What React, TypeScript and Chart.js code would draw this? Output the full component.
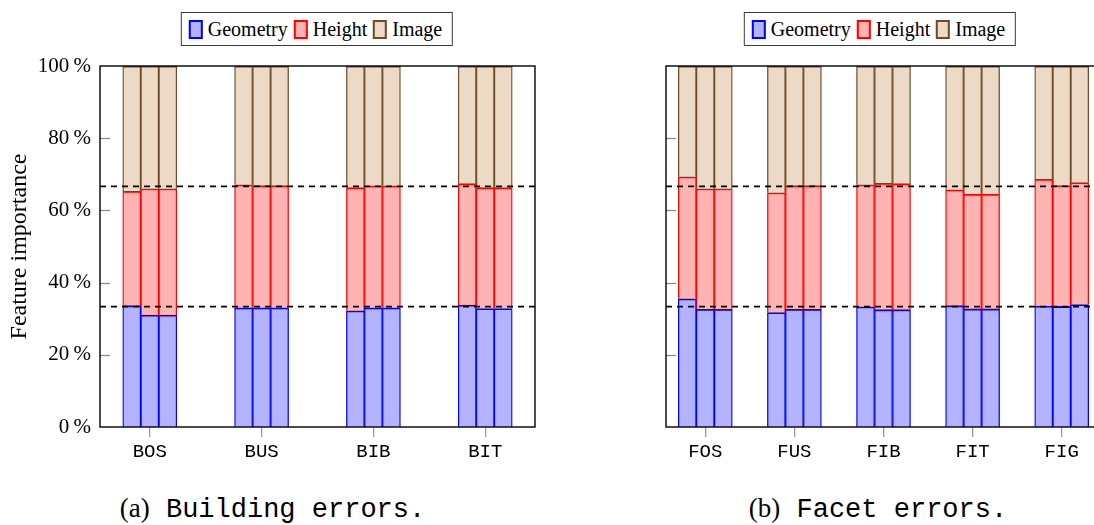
import React, { useEffect, useRef } from 'react';
import { Chart, registerables } from 'chart.js';

Chart.register(...registerables);

// ---------- data ----------
const seriesNames = ['Geometry', 'Height', 'Image'];

const buildingCategories = ['BOS', 'BUS', 'BIB', 'BIT'];
const buildingGeometry = [
  [33.6, 31.0, 31.0],
  [33.0, 33.0, 33.0],
  [32.2, 33.0, 33.0],
  [33.8, 32.8, 32.8],
];
const buildingHeight = [
  [31.7, 35.0, 35.0],
  [34.1, 33.85, 33.85],
  [34.1, 33.8, 33.8],
  [33.6, 33.5, 33.5],
];
const buildingImage = [
  [34.7, 34.0, 34.0],
  [32.9, 33.15, 33.15],
  [33.7, 33.2, 33.2],
  [32.6, 33.7, 33.7],
];

const facetCategories = ['FOS', 'FUS', 'FIB', 'FIT', 'FIG'];
const facetGeometry = [
  [35.5, 32.6, 32.6],
  [31.7, 32.6, 32.6],
  [33.3, 32.5, 32.5],
  [33.6, 32.7, 32.7],
  [33.5, 33.4, 33.9],
];
const facetHeight = [
  [33.8, 33.4, 33.4],
  [33.2, 34.25, 34.25],
  [33.8, 35.0, 34.9],
  [32.1, 31.75, 31.75],
  [35.1, 33.5, 33.8],
];
const facetImage = [
  [30.7, 34.0, 34.0],
  [35.1, 33.15, 33.15],
  [32.9, 32.5, 32.6],
  [34.3, 35.55, 35.55],
  [31.4, 33.1, 32.3],
];

const yTickValues = [0, 20, 40, 60, 80, 100];
const referenceLines = [100 / 3, 200 / 3];

// ---------- styles ----------
const seriesFill = ['#b3b3ff', '#ffb3b3', '#ecd9c6'];
const seriesBorder = ['#0000ff', '#ff0000', '#6e4a26'];
const SERIF = '"Liberation Serif", "Times New Roman", serif';
const MONO = '"Liberation Mono", "DejaVu Sans Mono", monospace';

const overlayPlugin = {
  id: 'overlay',
  afterDatasetsDraw(chart: any) {
    const { ctx, chartArea: a, scales } = chart;
    const y = scales.y;
    ctx.save();
    // inward y tick marks
    ctx.strokeStyle = '#8c8c8c';
    ctx.lineWidth = 1.3;
    for (const v of yTickValues) {
      if (v <= 0 || v >= 100) continue;
      const py = Math.round(y.getPixelForValue(v)) + 0.5;
      ctx.beginPath();
      ctx.moveTo(a.left, py);
      ctx.lineTo(a.left + 10, py);
      ctx.stroke();
    }
    // dashed reference lines
    ctx.strokeStyle = '#000';
    ctx.lineWidth = 1.6;
    ctx.setLineDash([6, 5]);
    for (const v of referenceLines) {
      const py = y.getPixelForValue(v);
      ctx.beginPath();
      ctx.moveTo(a.left, py);
      ctx.lineTo(a.right, py);
      ctx.stroke();
    }
    ctx.setLineDash([]);
    // frame
    ctx.strokeStyle = '#000';
    ctx.lineWidth = 1.4;
    ctx.strokeRect(a.left, a.top, a.right - a.left, a.bottom - a.top);
    ctx.restore();
  },
};

type PanelProps = {
  categories: string[];
  series: number[][][];
  xMin: number;
  xMax: number;
  subOffset: number;
  showYLabels: boolean;
  canvasW: number;
  canvasH: number;
  padRight: number;
  yAxisW: number;
  left: number;
};

function Panel(p: PanelProps) {
  const ref = useRef<HTMLCanvasElement>(null);
  useEffect(() => {
    const datasets = p.series.map((vals, s) => ({
      label: seriesNames[s],
      data: vals.flatMap((grp, i) =>
        grp.map((v, j) => ({ x: i + (j - 1) * p.subOffset, y: v }))
      ),
      backgroundColor: seriesFill[s],
      borderColor: seriesBorder[s],
      borderWidth: { top: 1.8, left: 1.3, right: 1.3, bottom: 0 },
      borderSkipped: 'start',
      barPercentage: 1,
      categoryPercentage: 1,
    }));
    const chart = new Chart(ref.current as HTMLCanvasElement, {
      type: 'bar',
      data: { datasets } as any,
      options: {
        animation: false,
        responsive: false,
        layout: { padding: { top: 66, right: p.padRight, bottom: 0, left: 0 } },
        plugins: { legend: { display: false }, tooltip: { enabled: false } },
        scales: {
          x: {
            type: 'linear',
            min: p.xMin,
            max: p.xMax,
            offset: false,
            stacked: true,
            afterBuildTicks: (s: any) => {
              s.ticks = p.categories.map((_, i) => ({ value: i }));
            },
            afterFit: (s: any) => {
              s.height = 43;
            },
            ticks: {
              autoSkip: false,
              maxRotation: 0,
              callback: (_v: any, i: number) => p.categories[i],
              font: { family: MONO, size: 19 },
              color: '#000',
              padding: 4,
            },
            grid: {
              offset: false,
              drawOnChartArea: false,
              drawTicks: true,
              tickLength: 10,
              color: '#9a9a9a',
              lineWidth: 1.3,
            },
            border: { display: false },
          },
          y: {
            type: 'linear',
            min: 0,
            max: 100,
            stacked: true,
            afterBuildTicks: (s: any) => {
              s.ticks = yTickValues.map((v) => ({ value: v }));
            },
            afterFit: (s: any) => {
              s.width = p.yAxisW;
            },
            ticks: {
              display: p.showYLabels,
              callback: (v: any) => v + '\u2009%',
              font: { family: SERIF, size: 21 },
              color: '#000',
              padding: 9,
            },
            grid: { display: false, drawTicks: false },
            border: { display: false },
            title: {
              display: p.showYLabels,
              text: 'Feature importance',
              font: { family: SERIF, size: 24 },
              color: '#000',
              padding: { top: 5, bottom: 0 },
            },
          },
        },
      } as any,
      plugins: [overlayPlugin],
    });
    return () => chart.destroy();
  }, []);
  return (
    <canvas
      ref={ref}
      width={p.canvasW}
      height={p.canvasH}
      style={{ position: 'absolute', left: p.left, top: 0, width: p.canvasW, height: p.canvasH }}
    />
  );
}

function Legend({ center }: { center: number }) {
  return (
    <div
      style={{
        position: 'absolute',
        left: center,
        top: 12,
        transform: 'translateX(-50%)',
        height: 34,
        boxSizing: 'border-box',
        border: '1.3px solid #3a3a3a',
        display: 'flex',
        alignItems: 'center',
        padding: '0 10px 0 7px',
        fontFamily: SERIF,
        fontSize: 20,
        color: '#000',
        whiteSpace: 'nowrap',
        background: '#fff',
      }}
    >
      {seriesNames.map((n, i) => (
        <div key={n} style={{ display: 'flex', alignItems: 'center', marginLeft: i === 0 ? 0 : 6 }}>
          <span
            style={{
              display: 'inline-block',
              width: 14,
              height: 19,
              boxSizing: 'border-box',
              border: `2px solid ${seriesBorder[i]}`,
              background: seriesFill[i],
              marginRight: 5,
            }}
          />
          <span style={{ lineHeight: '20px' }}>{n}</span>
        </div>
      ))}
    </div>
  );
}

function Caption({ left, width, tag, text }: { left: number; width: number; tag: string; text: string }) {
  return (
    <div
      style={{
        position: 'absolute',
        left,
        width,
        top: 492,
        textAlign: 'center',
        fontSize: 27,
        lineHeight: '32px',
        color: '#000',
        whiteSpace: 'nowrap',
      }}
    >
      <span style={{ fontFamily: SERIF }}>{tag}</span>
      <span style={{ fontFamily: MONO }}>{'  ' + text}</span>
    </div>
  );
}

export default function App() {
  return (
    <div
      style={{
        position: 'fixed',
        left: 0,
        top: 0,
        width: 1094,
        height: 525,
        overflow: 'hidden',
        background: '#fff',
      }}
    >
      <Panel
        categories={buildingCategories}
        series={[buildingGeometry, buildingHeight, buildingImage]}
        xMin={-0.445}
        xMax={3.445}
        subOffset={0.161}
        showYLabels={true}
        canvasW={547}
        canvasH={470}
        padRight={12}
        yAxisW={100}
        left={0}
      />
      <Panel
        categories={facetCategories}
        series={[facetGeometry, facetHeight, facetImage]}
        xMin={-0.441}
        xMax={4.441}
        subOffset={0.202}
        showYLabels={false}
        canvasW={560}
        canvasH={470}
        padRight={19}
        yAxisW={106}
        left={560}
      />
      <Legend center={317} />
      <Legend center={880} />
      <Caption left={0} width={545} tag="(a)" text="Building errors." />
      <Caption left={660} width={436} tag="(b)" text="Facet errors." />
    </div>
  );
}
